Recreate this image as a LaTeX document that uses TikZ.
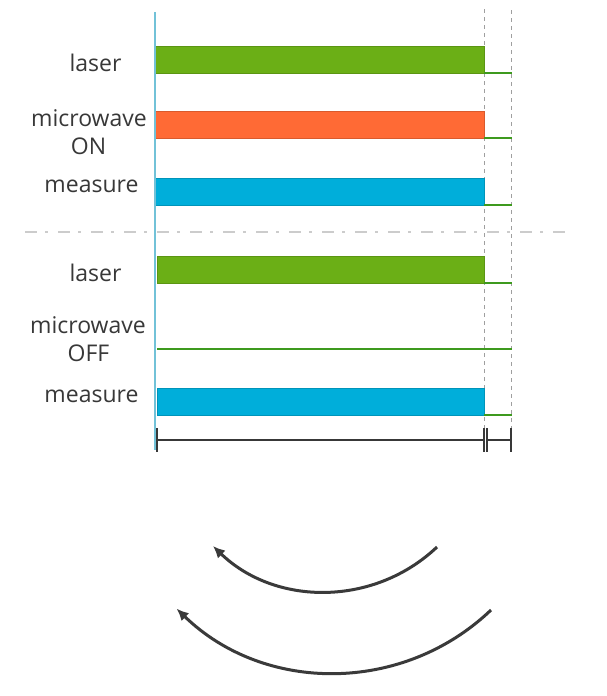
\documentclass[tikz,border=0pt]{standalone}
\usepackage{fontspec}
\setmainfont{Open Sans}
\usetikzlibrary{arrows.meta,calc}
\definecolor{lgreen}{HTML}{6BAF16}
\definecolor{lorange}{HTML}{FF6A35}
\definecolor{lblue}{HTML}{00AEDA}
\definecolor{basegreen}{HTML}{3E9A1E}
\definecolor{txtgray}{HTML}{383838}
\definecolor{axiscyan}{HTML}{72C2D8}
\definecolor{arrowgray}{HTML}{3A3A3A}
\tikzset{
  lbl/.style={font=\fontsize{23}{27}\selectfont, text=txtgray, anchor=base, inner sep=0pt},
  barbox/.style={draw=#1!85!black, line width=0.6pt, fill=#1},
  baseln/.style={draw=basegreen, line width=1.2pt},
  vdash/.style={draw=gray!75, line width=0.9pt, dash pattern=on 4pt off 4pt},
  sepline/.style={draw=gray!40, line width=2pt, dash pattern=on 12pt off 8pt on 3pt off 10pt},
  axisln/.style={draw=txtgray, line width=1.1pt},
  arcarrow/.style={draw=arrowgray, line width=3pt, -{Latex[length=12pt,width=11pt]}}
}
\begin{document}
\begin{tikzpicture}[x=1pt,y=-1pt]
\useasboundingbox[fill=white] (0,0) rectangle (606,696);
% guide lines
\draw[vdash] (484,9) -- (484,452);
\draw[vdash] (511,10) -- (511,452);
\draw[sepline] (25,232) -- (568,232);
% upper section
\draw[barbox=lgreen] (155,46) rectangle (484,73);
\draw[barbox=lorange] (155,111) rectangle (484,138);
\draw[barbox=lblue] (155,178) rectangle (484,205);
\draw[baseln] (484,73) -- (512,73);
\draw[baseln] (484,138) -- (512,138);
\draw[baseln] (484,205) -- (512,205);
% lower section
\draw[barbox=lgreen] (157,256) rectangle (484,283);
\draw[barbox=lblue] (157,388) rectangle (484,415);
\draw[baseln] (484,283) -- (512,283);
\draw[baseln] (157,349) -- (512,349);
\draw[baseln] (484,415) -- (512,415);
% vertical time line
\draw[axiscyan, line width=1.4pt] (155,12) -- (155,450);
% labels
\node[lbl] (l1) at (95.5,71) {laser};
\node[lbl] (m1a) at (89,126) {microwave};
\node[lbl] (m1b) at (88.5,154) {ON};
\node[lbl] (s1) at (91.5,192) {measure};
\node[lbl] (l2) at (95.5,281) {laser};
\node[lbl] (m2a) at (88,333) {microwave};
\node[lbl] (m2b) at (88.5,361) {OFF};
\node[lbl] (s2) at (91.5,402) {measure};
% time axis
\coordinate (t0) at (157,440);
\coordinate (t1) at (484,440);
\coordinate (t2) at (487,440);
\coordinate (t3) at (511,440);
\draw[axisln] (t0) -- (t1);
\draw[axisln] (t2) -- (t3);
\foreach \t in {t0,t1,t2,t3}{\draw[axisln] ($(\t)+(0,-12)$) -- ($(\t)+(0,12)$);}
% arcs
\coordinate (a1s) at (437,547);
\coordinate (a2s) at (491,610);
\draw[arcarrow] (a1s) arc[start angle=46.5, end angle=134, radius=162];
\draw[arcarrow] (a2s) arc[start angle=46.3, end angle=134.2, radius=226.5];
\end{tikzpicture}
\end{document}
